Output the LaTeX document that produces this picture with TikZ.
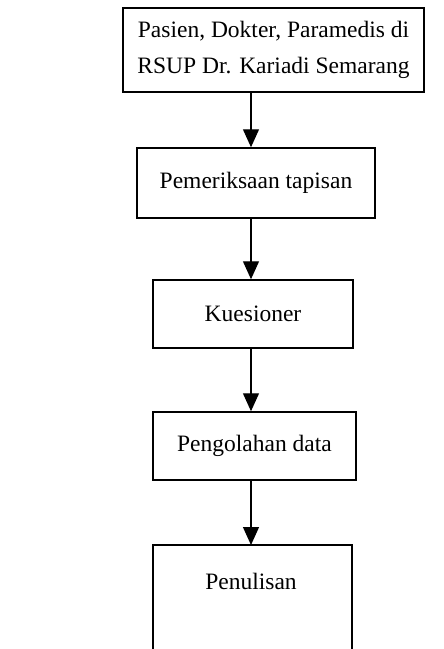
\documentclass[tikz,border=0pt]{standalone}
\usepackage{fontspec}
\setmainfont{Liberation Serif}
\usetikzlibrary{arrows.meta}
\begin{document}
\begin{tikzpicture}[x=1pt,y=-1pt,
  box/.style={draw, line width=1.5pt, inner sep=0pt, font=\fontsize{23.5}{36}\selectfont, align=center},
  lbl/.style={inner sep=0pt, font=\fontsize{23.5}{36}\selectfont},
  arr/.style={line width=1.3pt, -{Triangle[length=18pt,width=16pt]}}]
\useasboundingbox (0,0) rectangle (444,649);
\node[box, minimum width=301pt, minimum height=84pt] (b1) at (273.5,50) {Pasien, Dokter, Paramedis di\\RSUP Dr. Kariadi Semarang};
\node[box, minimum width=238pt, minimum height=70pt] (b2) at (256,183) {Pemeriksaan tapisan};
\node[box, minimum width=200pt, minimum height=68pt] (b3) at (253,314) {Kuesioner};
\node[box, minimum width=203pt, minimum height=68pt] (b4) at (254.5,446) {Pengolahan data};
\node[lbl] (b5) at (251,581) {Penulisan};
\coordinate (ax) at (251,0);
\coordinate (b5tl) at (153,545);
\coordinate (b5tr) at (352,545);
\coordinate (b5top) at (251,545);
\draw[line width=1.5pt] (153,649) -- (b5tl) -- (b5tr) -- (352,649);
\draw[arr] (b1.south -| ax) -- (b2.north -| ax);
\draw[arr] (b2.south -| ax) -- (b3.north -| ax);
\draw[arr] (b3.south -| ax) -- (b4.north -| ax);
\draw[arr] (b4.south -| ax) -- (b5top);
\end{tikzpicture}
\end{document}
